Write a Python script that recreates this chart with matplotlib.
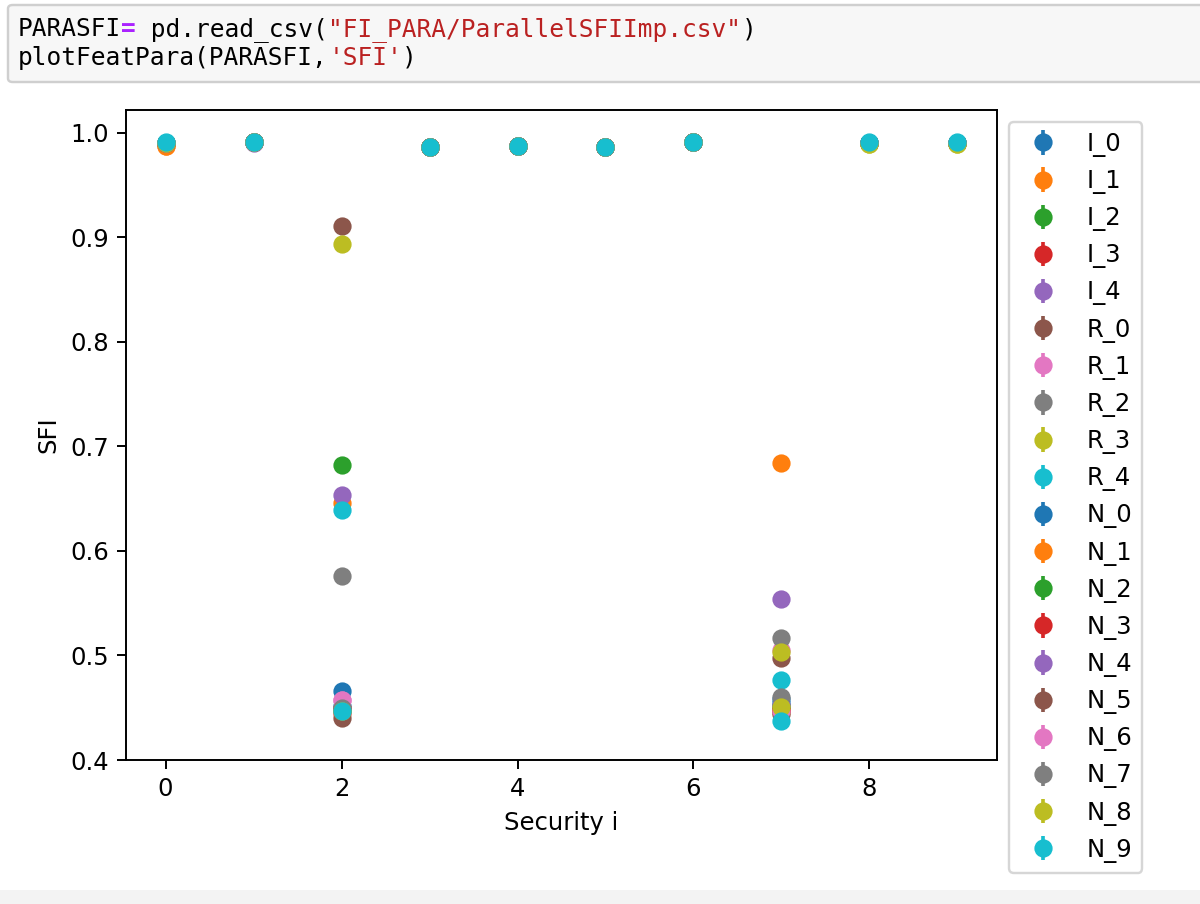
import matplotlib
matplotlib.use('Agg')
import matplotlib.pyplot as plt
from matplotlib.patches import FancyBboxPatch, Rectangle
import numpy as np

# securities on the x axis
securities = [0, 1, 2, 3, 4, 5, 6, 7, 8, 9]

# SFI value of every feature for each security
I_0 = [0.990, 0.991, 0.466, 0.987, 0.988, 0.987, 0.991, 0.455, 0.990, 0.990]
I_1 = [0.988, 0.991, 0.646, 0.987, 0.988, 0.987, 0.991, 0.684, 0.990, 0.990]
I_2 = [0.990, 0.991, 0.682, 0.987, 0.988, 0.987, 0.991, 0.450, 0.990, 0.990]
I_3 = [0.990, 0.991, 0.450, 0.987, 0.988, 0.987, 0.991, 0.449, 0.990, 0.990]
I_4 = [0.990, 0.990, 0.654, 0.987, 0.988, 0.987, 0.991, 0.554, 0.990, 0.990]
R_0 = [0.990, 0.991, 0.911, 0.987, 0.988, 0.987, 0.991, 0.498, 0.990, 0.990]
R_1 = [0.990, 0.991, 0.457, 0.987, 0.988, 0.987, 0.991, 0.505, 0.990, 0.990]
R_2 = [0.990, 0.991, 0.576, 0.987, 0.988, 0.987, 0.991, 0.517, 0.990, 0.990]
R_3 = [0.990, 0.991, 0.894, 0.987, 0.988, 0.987, 0.991, 0.503, 0.989, 0.989]
R_4 = [0.990, 0.991, 0.639, 0.987, 0.988, 0.987, 0.991, 0.477, 0.990, 0.990]
N_0 = [0.990, 0.991, 0.452, 0.987, 0.988, 0.987, 0.991, 0.458, 0.990, 0.990]
N_1 = [0.988, 0.991, 0.450, 0.987, 0.988, 0.987, 0.991, 0.446, 0.990, 0.990]
N_2 = [0.990, 0.991, 0.448, 0.987, 0.988, 0.987, 0.991, 0.452, 0.990, 0.990]
N_3 = [0.990, 0.991, 0.445, 0.987, 0.988, 0.987, 0.991, 0.448, 0.990, 0.990]
N_4 = [0.990, 0.991, 0.450, 0.987, 0.988, 0.987, 0.991, 0.453, 0.990, 0.990]
N_5 = [0.990, 0.991, 0.440, 0.987, 0.988, 0.987, 0.991, 0.444, 0.990, 0.990]
N_6 = [0.990, 0.991, 0.457, 0.987, 0.988, 0.987, 0.991, 0.447, 0.990, 0.990]
N_7 = [0.990, 0.991, 0.450, 0.987, 0.988, 0.987, 0.991, 0.460, 0.990, 0.990]
N_8 = [0.990, 0.991, 0.447, 0.987, 0.988, 0.987, 0.991, 0.451, 0.989, 0.989]
N_9 = [0.991, 0.991, 0.447, 0.987, 0.988, 0.987, 0.991, 0.437, 0.991, 0.991]

labels = ['I_0', 'I_1', 'I_2', 'I_3', 'I_4', 'R_0', 'R_1', 'R_2', 'R_3', 'R_4',
          'N_0', 'N_1', 'N_2', 'N_3', 'N_4', 'N_5', 'N_6', 'N_7', 'N_8', 'N_9']
series = [I_0, I_1, I_2, I_3, I_4, R_0, R_1, R_2, R_3, R_4,
          N_0, N_1, N_2, N_3, N_4, N_5, N_6, N_7, N_8, N_9]

W, H, DPI = 1200, 904, 175
fig = plt.figure(figsize=(W / DPI, H / DPI), dpi=DPI)

# notebook code cell above the plot
cell = FancyBboxPatch((8 / W, 1 - 82 / H), 1.0, 77 / H,
                      boxstyle='round,pad=0,rounding_size=0.004',
                      transform=fig.transFigure, facecolor='#f7f7f7',
                      edgecolor='#cfcfcf', linewidth=1.0)
fig.patches.append(cell)
# faint strip at the bottom of the screenshot
fig.patches.append(Rectangle((0, 0), 1, 14 / H, transform=fig.transFigure,
                             facecolor='#f3f3f3', edgecolor='none'))

code_lines = [
    [('PARASFI', '#000000', 'normal'), ('=', '#aa22ff', 'bold'),
     (' pd.read_csv(', '#000000', 'normal'),
     ('"FI_PARA/ParallelSFIImp.csv"', '#ba2121', 'normal'), (')', '#000000', 'normal')],
    [('plotFeatPara(PARASFI,', '#000000', 'normal'), ("'SFI'", '#ba2121', 'normal'),
     (')', '#000000', 'normal')],
]
code_size = 10.1
char_w = 0.602 * code_size * DPI / 72
baselines = [36, 65]
for line, yb in zip(code_lines, baselines):
    n = 0
    for txt, col, wt in line:
        fig.text((18 + n * char_w) / W, 1 - yb / H, txt, color=col, fontweight=wt,
                 family='DejaVu Sans Mono', fontsize=code_size, va='baseline', ha='left')
        n += len(txt)

# the plot itself
ax = fig.add_axes([126 / W, 1 - 760 / H, (997 - 126) / W, (760 - 110) / H])
for lab, vals in zip(labels, series):
    ax.errorbar(securities, vals, yerr=np.zeros(len(vals)), fmt='o', markersize=6.5, label=lab)

ax.set_ylim(0.4, 1.022)
ax.set_xlabel('Security i')
ax.set_ylabel('SFI')
ax.legend(bbox_to_anchor=(1, 1), loc='upper left')

fig.savefig('out.png', dpi=DPI)
